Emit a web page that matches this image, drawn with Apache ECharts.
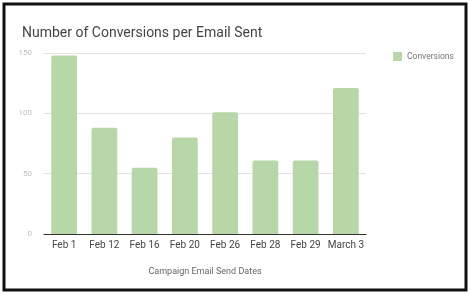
<!DOCTYPE html>
<html><head><meta charset="utf-8">
<script src="https://cdn.jsdelivr.net/npm/echarts@6/dist/echarts.min.js"></script>
<style>html,body{margin:0;padding:0;background:#fff}#c{width:470px;height:294px}</style>
</head><body><div id="c"></div>
<script>
const categories = ["Feb 1","Feb 12","Feb 16","Feb 20","Feb 26","Feb 28","Feb 29","March 3"];
const conversions = [148, 88, 55, 80, 101, 61, 61, 121];
const yTicks = [0, 50, 100, 150];

const chart = echarts.init(document.getElementById('c'), null, {renderer:'canvas'});
chart.setOption({
  animation:false,
  backgroundColor:'#fff',
  textStyle:{fontFamily:'Roboto'},
  graphic:[{type:'rect',shape:{x:4,y:4,width:462,height:286},style:{fill:'none',stroke:'#111',lineWidth:3},z:100}],
  title:{text:'Number of Conversions per Email Sent',left:17,top:21,textStyle:{fontFamily:'Roboto',fontSize:14,fontWeight:'normal',color:'#444'}},
  legend:{data:['Conversions'],left:388,top:47,icon:'rect',itemWidth:9,itemHeight:9,itemGap:5,textStyle:{fontSize:8.5,color:'#777',fontFamily:'Roboto'}},
  grid:{left:44,right:104,top:53,bottom:60},
  xAxis:{type:'category',data:categories,name:'Campaign Email Send Dates',nameLocation:'middle',nameGap:33,
    nameTextStyle:{fontSize:9,color:'#666'},
    axisLine:{lineStyle:{color:'#333'}},axisTick:{show:false},
    axisLabel:{fontSize:10,color:'#444',margin:6,interval:0}},
  yAxis:{type:'value',min:0,max:150,interval:50,
    axisLabel:{fontSize:8,color:'#c0c0c0',margin:12},
    axisLine:{show:false},axisTick:{show:false},
    splitLine:{lineStyle:{color:'#e2e2e2'}}},
  series:[{name:'Conversions',type:'bar',data:conversions,barWidth:'64%',
    itemStyle:{color:'#b7d7a8',borderRadius:[2,2,0,0]}}]
});
</script></body></html>
